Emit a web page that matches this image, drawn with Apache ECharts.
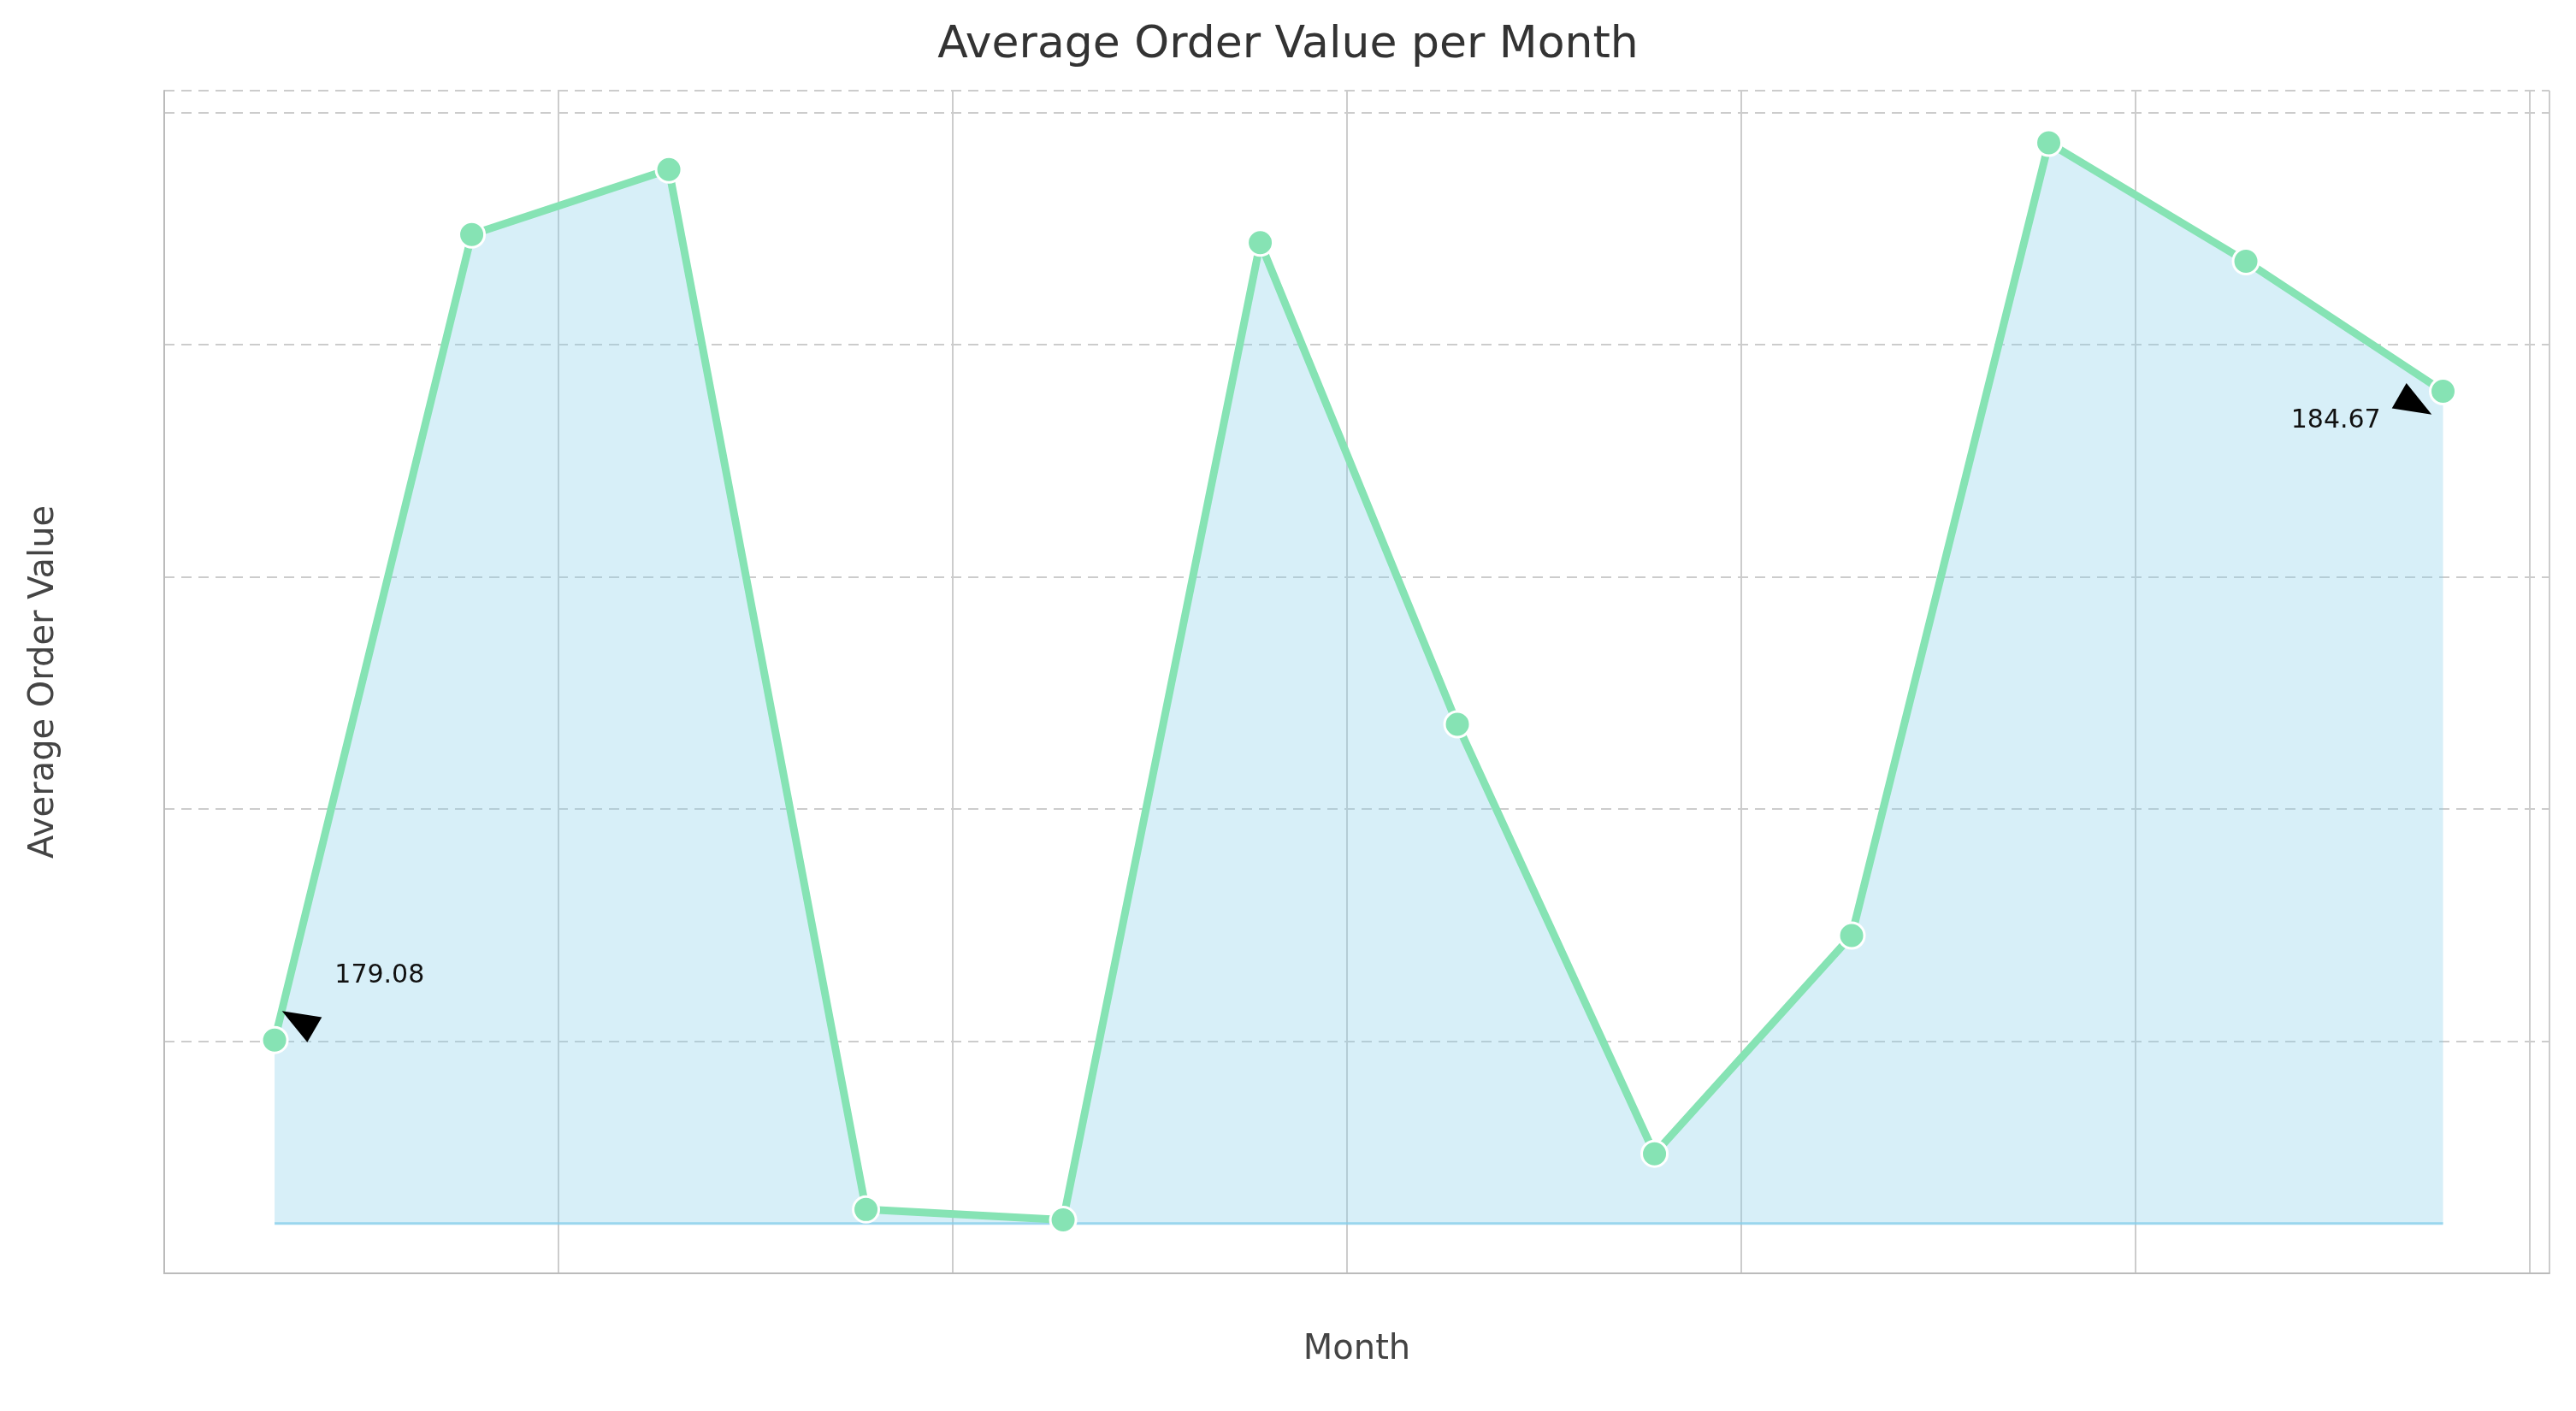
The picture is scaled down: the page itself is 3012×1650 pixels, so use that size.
<!DOCTYPE html>
<html><head><meta charset="utf-8">
<script src="https://cdn.jsdelivr.net/npm/echarts@6/dist/echarts.min.js"></script>
<style>html,body{margin:0;background:#fff}#c{width:3012px;height:1650px}</style>
</head><body><div id="c"></div>
<script>
var months = [1, 2, 3, 4, 5, 6, 7, 8, 9, 10, 11, 12];
var values = [179.08, 186.02, 186.58, 177.62, 177.53, 185.95, 181.80, 178.10, 179.98, 186.81, 185.79, 184.67];
var fillBase = 177.5;

var chart = echarts.init(document.getElementById('c'));
var pts = months.map(function (m, i) { return [m, values[i]]; });
var font = 'DejaVu Sans';

chart.setOption({
  animation: false,
  title: { text: 'Average Order Value per Month', left: 'center', top: 22,
    textStyle: { fontFamily: font, fontSize: 52, fontWeight: 'normal', color: '#333' } },
  grid: { left: 192, right: 31, top: 106, bottom: 161 },
  xAxis: {
    type: 'value', min: 0.44, max: 12.54, interval: 2,
    name: 'Month', nameLocation: 'middle', nameGap: 70,
    nameTextStyle: { fontFamily: font, fontSize: 40, color: '#444' },
    axisLine: { lineStyle: { color: '#bbb', width: 2 } },
    axisTick: { show: false },
    axisLabel: { fontFamily: font, fontSize: 30, color: '#555', margin: 22,
      formatter: function (v) { return (v % 2 === 0) ? v : ''; }, showMinLabel: false, showMaxLabel: false },
    splitLine: { show: true, lineStyle: { color: '#ccc', width: 2 } }
  },
  yAxis: {
    type: 'value', min: 177.07, max: 187.26, interval: 2,
    name: 'Average Order Value', nameLocation: 'middle', nameGap: 120,
    nameTextStyle: { fontFamily: font, fontSize: 40, color: '#444' },
    axisLine: { show: true, lineStyle: { color: '#bbb', width: 2 } },
    axisTick: { show: false },
    axisLabel: { fontFamily: font, fontSize: 30, color: '#555', margin: 22,
      formatter: function (v) { return Math.abs(v - Math.round(v)) < 1e-6 && Math.round(v) % 2 === 0 ? Math.round(v) : ''; },
      showMinLabel: false, showMaxLabel: false },
    splitLine: { show: true, lineStyle: { color: '#ccc', width: 2, type: [12, 8] } }
  },
  series: [{
    type: 'line',
    data: pts,
    symbol: 'circle', symbolSize: 30,
    itemStyle: { color: '#86e3b4', borderColor: '#fff', borderWidth: 3 },
    lineStyle: { color: '#86e3b4', width: 9 },
    areaStyle: { origin: fillBase, color: 'rgba(135,206,235,0.48)' },
    z: 3,
    markPoint: {
      symbol: 'triangle', symbolSize: [34, 44],
      itemStyle: { color: '#000' },
      data: [
        { coord: [1.12, 179.25], symbolRotate: 60,
          label: { show: true, formatter: '179.08', position: 'right', offset: [10, -52],
            fontFamily: font, fontSize: 30, color: '#111' } },
        { coord: [11.86, 184.55], symbolRotate: -120,
          label: { show: true, formatter: '184.67', position: 'left', offset: [-8, 18],
            fontFamily: font, fontSize: 30, color: '#111' } }
      ]
    }
  }, {
    type: 'line',
    data: [[1, fillBase], [12, fillBase]],
    symbol: 'none',
    lineStyle: { color: 'rgba(135,206,235,0.8)', width: 3 },
    z: 2
  }]
});
</script></body></html>
